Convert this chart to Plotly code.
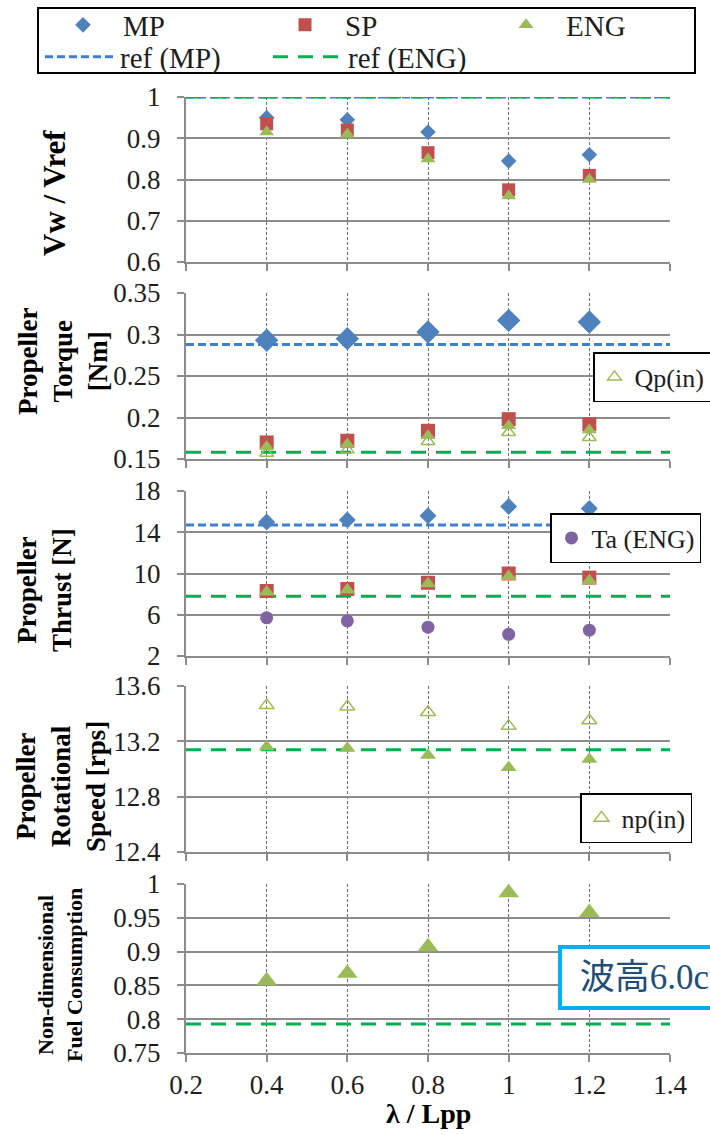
import plotly.graph_objects as go

W, H = 710, 1135

# ---------------- data ----------------
lam = [0.4, 0.6, 0.8, 1.0, 1.2]
x_span = [0.2, 1.4]

# Panel 1: Vw / Vref
vw_mp = [0.950, 0.945, 0.915, 0.845, 0.860]
vw_sp = [0.935, 0.920, 0.865, 0.775, 0.810]
vw_eng = [0.915, 0.910, 0.850, 0.760, 0.800]
vw_ref_mp = 1.0
vw_ref_eng = 1.0

# Panel 2: propeller torque [Nm]
q_mp = [0.293, 0.295, 0.303, 0.317, 0.315]
q_sp = [0.170, 0.172, 0.184, 0.198, 0.192]
q_eng = [0.165, 0.168, 0.178, 0.190, 0.185]
q_in = [0.157, 0.161, 0.171, 0.182, 0.176]
q_ref_mp = 0.288
q_ref_eng = 0.158

# Panel 3: propeller thrust [N]
t_mp = [15.0, 15.2, 15.6, 16.5, 16.3]
t_sp = [8.3, 8.5, 9.1, 10.0, 9.6]
t_eng = [8.2, 8.4, 9.0, 9.7, 9.3]
t_a = [5.7, 5.4, 4.8, 4.1, 4.5]
t_ref_mp = 14.7
t_ref_eng = 7.8

# Panel 4: propeller rotational speed [rps]
n_in = [13.46, 13.45, 13.41, 13.31, 13.35]
n_eng = [13.16, 13.15, 13.10, 13.01, 13.07]
n_ref_eng = 13.14

# Panel 5: non-dimensional fuel consumption
f_eng = [0.857, 0.868, 0.907, 0.987, 0.958]
f_ref_eng = 0.793

# axis settings: (range, dtick)
y_ranges = [[0.6, 1.0], [0.15, 0.35], [2, 18], [12.4, 13.6], [0.75, 1.0]]
y_dticks = [0.1, 0.05, 4, 0.4, 0.05]

# ---------------- style ----------------
C_MP = "#4F81BD"
C_SP = "#C0504D"
C_ENG = "#9BBB59"
C_TA = "#8064A2"
C_REF_MP = "#3F7FCC"
C_REF_ENG = "#00B050"
SERIF = "Liberation Serif"
TXT = "#1e1e1e"

panels_px = [(97, 262), (293, 459), (491, 656), (686, 852), (884, 1053)]
x_dom = [186 / W, 670 / W]


def ydom(top, bot):
    return [1 - bot / H, 1 - top / H]


fig = go.Figure()


def ax(i):
    return ("x" if i == 1 else f"x{i}"), ("y" if i == 1 else f"y{i}")


def add_pts(i, y, name, symbol, color, size, legend="legend", show=False, open_=False):
    xa, ya = ax(i)
    marker = dict(symbol=symbol, color=color, size=size)
    if open_:
        marker["line"] = dict(color=color, width=1.5)
    fig.add_trace(go.Scatter(
        x=lam, y=y, mode="markers", name=name, marker=marker,
        xaxis=xa, yaxis=ya, showlegend=show, cliponaxis=False, legend=legend))


def add_ref(i, val, name, color, dash, width=3, legend="legend", show=False):
    xa, ya = ax(i)
    fig.add_trace(go.Scatter(
        x=x_span, y=[val, val], mode="lines", name=name,
        line=dict(color=color, dash=dash, width=width),
        xaxis=xa, yaxis=ya, showlegend=show, legend=legend))


DASH_MP = "8px,4px"
DASH_ENG = "15px,10px"

# Panel 1
add_ref(1, vw_ref_mp, "ref (MP)", C_REF_MP, DASH_MP, show=True, legend="legend4")
add_ref(1, vw_ref_eng, "ref (ENG)", C_REF_ENG, DASH_ENG, show=True, legend="legend5")
add_pts(1, vw_mp, "MP", "diamond", C_MP, 12, show=True, legend="legend")
add_pts(1, vw_sp, "SP", "square", C_SP, 13, show=True, legend="legend2")
add_pts(1, vw_eng, "ENG", "triangle-up", C_ENG, 13, show=True, legend="legend3")

# Panel 2
add_ref(2, q_ref_mp, "ref (MP)", C_REF_MP, DASH_MP)
add_ref(2, q_ref_eng, "ref (ENG)", C_REF_ENG, DASH_ENG)
add_pts(2, q_mp, "MP", "diamond", C_MP, 18)
add_pts(2, q_sp, "SP", "square", C_SP, 14)
add_pts(2, q_in, "Qp(in)", "triangle-up-open", C_ENG, 12, show=True, legend="legend6", open_=True)
add_pts(2, q_eng, "ENG", "triangle-up", C_ENG, 13)

# Panel 3
add_ref(3, t_ref_mp, "ref (MP)", C_REF_MP, DASH_MP)
add_ref(3, t_ref_eng, "ref (ENG)", C_REF_ENG, DASH_ENG)
add_pts(3, t_mp, "MP", "diamond", C_MP, 13)
add_pts(3, t_sp, "SP", "square", C_SP, 14)
add_pts(3, t_eng, "ENG", "triangle-up", C_ENG, 14)
add_pts(3, t_a, "Ta (ENG)", "circle", C_TA, 13, show=True, legend="legend7")

# Panel 4
add_ref(4, n_ref_eng, "ref (ENG)", C_REF_ENG, DASH_ENG)
add_pts(4, n_in, "np(in)", "triangle-up-open", C_ENG, 13, show=True, legend="legend8", open_=True)
add_pts(4, n_eng, "ENG", "triangle-up", C_ENG, 14)

# Panel 5
add_ref(5, f_ref_eng, "ref (ENG)", C_REF_ENG, DASH_ENG)
add_pts(5, f_eng, "ENG", "triangle-up", C_ENG, 18)

layout = dict(
    width=W, height=H, margin=dict(l=0, r=0, t=0, b=0, autoexpand=False),
    paper_bgcolor="white", plot_bgcolor="white",
    font=dict(family=SERIF, size=26, color=TXT),
)

for i in range(1, 6):
    top, bot = panels_px[i - 1]
    xk = "xaxis" if i == 1 else f"xaxis{i}"
    yk = "yaxis" if i == 1 else f"yaxis{i}"
    layout[xk] = dict(
        domain=x_dom, anchor=ax(i)[1], range=x_span, tick0=0.2, dtick=0.2,
        showgrid=True, gridcolor="#6e6e6e", gridwidth=1, griddash="3px,2px",
        zeroline=False, showline=True, linecolor="#8c8c8c", linewidth=2,
        ticks="outside", ticklen=7, tickcolor="#8c8c8c", tickwidth=1.5,
        showticklabels=(i == 5), ticklabelstandoff=0,
        tickfont=dict(family=SERIF, size=27, color=TXT),
    )
    layout[yk] = dict(
        domain=ydom(top, bot), anchor=ax(i)[0], range=y_ranges[i - 1],
        tick0=y_ranges[i - 1][0], dtick=y_dticks[i - 1],
        showgrid=True, gridcolor="#8c8c8c", gridwidth=2,
        zeroline=False, showline=True, linecolor="#8c8c8c", linewidth=2,
        ticks="outside", ticklen=7, tickcolor="#8c8c8c", tickwidth=1.5,
        ticklabelstandoff=11,
        tickfont=dict(family=SERIF, size=27, color=TXT),
    )

# legends: one entry each, placed where the reference shows them
top_leg = dict(orientation="h", xanchor="left", yanchor="middle", itemwidth=70,
               bgcolor="rgba(0,0,0,0)", borderwidth=0,
               font=dict(family=SERIF, size=29, color=TXT))
layout["legend"] = dict(top_leg, x=43 / W, y=1 - 25 / H)
layout["legend2"] = dict(top_leg, x=265 / W, y=1 - 25 / H)
layout["legend3"] = dict(top_leg, x=486 / W, y=1 - 25 / H)
layout["legend4"] = dict(top_leg, x=40 / W, y=1 - 57 / H)
layout["legend5"] = dict(top_leg, x=268 / W, y=1 - 57 / H)

small_leg = dict(bgcolor="white", bordercolor="black", borderwidth=1.5,
                 font=dict(family=SERIF, size=26, color=TXT),
                 xanchor="left", yanchor="middle")
layout["legend6"] = dict(small_leg, x=593 / W, y=1 - 377 / H)
layout["legend7"] = dict(small_leg, x=550 / W, y=1 - 538 / H)
layout["legend8"] = dict(small_leg, x=580 / W, y=1 - 818 / H)

# outer legend frame
layout["shapes"] = [dict(
    type="rect", xref="paper", yref="paper",
    x0=38 / W, x1=695 / W, y0=1 - 73 / H, y1=1 - 8 / H,
    line=dict(color="black", width=2), fillcolor="rgba(0,0,0,0)", layer="below",
)]


def title_ann(text, xc, yc, size):
    return dict(text=text, x=xc / W, y=1 - yc / H, xref="paper", yref="paper",
                xanchor="center", yanchor="middle", textangle=-90, showarrow=False,
                font=dict(family=SERIF, size=size, color="black", weight="bold"))


layout["annotations"] = [
    title_ann("Vw / Vref", 54, 193, 31),
    title_ann("Propeller<br>Torque<br>[Nm]", 63, 362, 27),
    title_ann("Propeller<br>Thrust [N]", 44, 590, 27),
    title_ann("Propeller<br>Rotational<br>Speed [rps]", 61, 787, 27),
    title_ann("Non-dimensional<br>Fuel Consumption", 60, 975, 22),
    dict(text="λ / Lpp", x=428 / W, y=1 - 1113 / H, xref="paper", yref="paper",
         xanchor="center", yanchor="middle", showarrow=False,
         font=dict(family=SERIF, size=28, color="black", weight="bold")),
    dict(text="&nbsp;波高6.0cm", x=558 / W, y=1 - 977 / H, xref="paper", yref="paper",
         xanchor="left", yanchor="middle", showarrow=False,
         bgcolor="white", bordercolor="#00B0F0", borderwidth=4, borderpad=9,
         font=dict(family="Liberation Serif, Noto Sans CJK JP", size=35,
                   color="#1F4E79")),
]

fig.update_layout(**layout)
fig.write_html("out.html", config={"displayModeBar": False},
               post_script="document.body.style.margin='0';document.body.style.overflow='hidden';")
